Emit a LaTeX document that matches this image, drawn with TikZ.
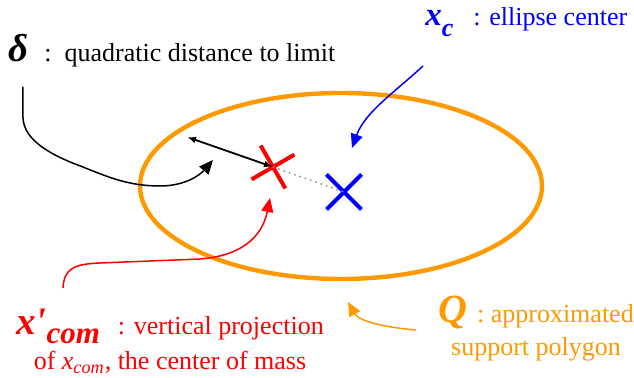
\documentclass[tikz,border=0pt]{standalone}
\usepackage{fontspec}
\setmainfont{Liberation Serif}
\usetikzlibrary{arrows.meta, positioning, shapes.geometric, shapes.misc}
\definecolor{colQ}{RGB}{255,153,0}
\newcommand\lblsym[1]{\fontsize{#1}{#1}\selectfont\bfseries\itshape}
\tikzset{
	lbltxt/.style={inner sep=0pt, font=\fontsize{13}{#1}\selectfont},
	lbltxt/.default=16.5,
	crossmark/.style={draw, cross out, line width=2pt, minimum size=15.5pt, inner sep=0pt},
	curvearr/.style={-{Triangle[length=7pt, width=6pt]}, line width=0.75pt},
	distarr/.style={{Latex[length=4.5pt]}-{Latex[length=4.5pt]}, line width=0.9pt},
}
\begin{document}
\begin{tikzpicture}[x=0.5pt, y=-0.5pt]
	\useasboundingbox (0,0) rectangle (634,378);

	% support polygon, drawn as its ellipse
	\node[draw=colQ, line width=2.2pt, ellipse, minimum width=201pt, minimum height=93pt,
		inner sep=0pt] (poly) at (341,186) {};

	% projected com and ellipse center
	\node[crossmark, red, rotate=-15] (comx) at (273,167) {};
	\node[crossmark, blue] (cx) at (344,192) {};
	\draw[gray!80, dotted, line width=0.8pt] (comx.center) -- (cx.center);

	% labels (a two-line node sits on the baseline of its last line)
	\node[lbltxt, anchor=base west] (dlbl) at (8,62)
		{{\lblsym{19.5}δ}\hspace{8pt}:\enspace quadratic distance to limit};
	\node[lbltxt, anchor=base west, text=blue] (clbl) at (425,26)
		{{\lblsym{16.5}x\raisebox{-5.5pt}{\lblsym{13}c}}\hspace{10pt}: ellipse center};
	\node[lbltxt=17.5, align=center, anchor=base, text=red] (comlbl) at (170,370)
		{{\lblsym{19.5}x\textquotesingle\raisebox{-4.5pt}{\lblsym{15.5}com}}\hspace{9pt}: vertical projection\\
		of \textit{x}\textsubscript{\itshape com}, the center of mass};
	\node[lbltxt, align=center, anchor=base, text=colQ] (qlbl) at (536,356)
		{{\lblsym{20}Q}\hspace{5pt}: approximated\\support polygon};

	% free ends of the pointers
	\coordinate (dstart) at (23,87);
	\coordinate (dtip) at (213,160);
	\coordinate (dlim) at (187,137);
	\coordinate (cstart) at (423,66);
	\coordinate (ctip) at (352,148);
	\coordinate (comstart) at (63,288);
	\coordinate (comtip) at (270,198);
	\coordinate (qstart) at (416,330);
	\coordinate (qtip) at (348,302);

	\draw[distarr] (dlim) -- (comx.center);
	\draw[curvearr] (dstart) -- (23,118) .. controls (24,140) and (50,155) .. (83,167)
		.. controls (110,178) and (130,186) .. (160,186)
		.. controls (185,186) and (200,175) .. (dtip);
	\draw[curvearr, blue] (cstart) .. controls (395,92) and (365,112) .. (ctip);
	\draw[curvearr, red] (comstart) .. controls (64,268) and (75,264) .. (100,263)
		-- (200,259) .. controls (240,256) and (262,238) .. (comtip);
	\draw[curvearr, colQ] (qstart) .. controls (380,327) and (358,320) .. (qtip);
\end{tikzpicture}
\end{document}
